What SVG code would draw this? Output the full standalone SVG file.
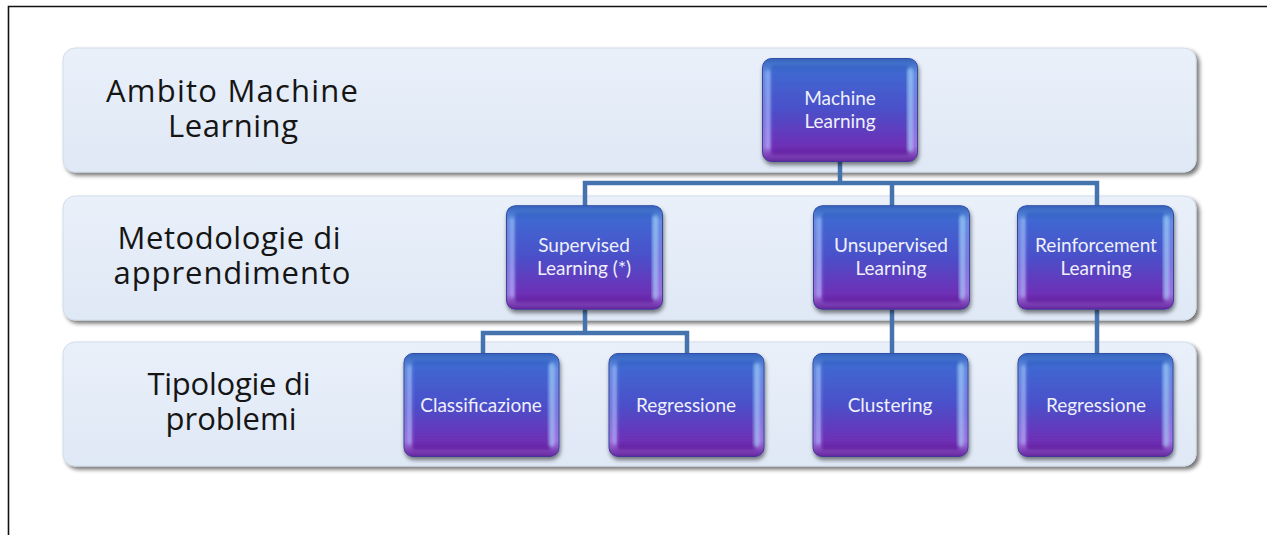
<svg xmlns="http://www.w3.org/2000/svg" width="1267" height="535" viewBox="0 0 1267 535">
  <defs>
    <linearGradient id="bandFill" x1="0" y1="0" x2="0" y2="1">
      <stop offset="0" stop-color="#e9f0fa"/>
      <stop offset="1" stop-color="#dfe8f5"/>
    </linearGradient>
    <linearGradient id="bevelFill" x1="0" y1="0" x2="0" y2="1">
      <stop offset="0" stop-color="#5f95e6"/>
      <stop offset="0.55" stop-color="#7d78e0"/>
      <stop offset="1" stop-color="#b06ee0"/>
    </linearGradient>
    <linearGradient id="faceFill" x1="0" y1="0" x2="0" y2="1">
      <stop offset="0" stop-color="#3d6cd3"/>
      <stop offset="0.5" stop-color="#4b4fc9"/>
      <stop offset="0.85" stop-color="#6a33b8"/>
      <stop offset="1" stop-color="#7228ae"/>
    </linearGradient>
    <linearGradient id="edgeShade" x1="0" y1="0" x2="0" y2="1">
      <stop offset="0" stop-color="#2f5cb8" stop-opacity="0.9"/>
      <stop offset="0.15" stop-color="#2f5cb8" stop-opacity="0"/>
      <stop offset="0.85" stop-color="#5a1f96" stop-opacity="0"/>
      <stop offset="1" stop-color="#5a1f96" stop-opacity="0.9"/>
    </linearGradient>
    <filter id="bandShadow" x="-5%" y="-20%" width="110%" height="140%">
      <feGaussianBlur in="SourceAlpha" stdDeviation="2.2"/>
      <feOffset dx="3" dy="3" result="b"/>
      <feComponentTransfer><feFuncA type="linear" slope="0.55"/></feComponentTransfer>
      <feMerge><feMergeNode/><feMergeNode in="SourceGraphic"/></feMerge>
    </filter>
    <filter id="nodeShadow" x="-10%" y="-10%" width="125%" height="130%">
      <feGaussianBlur in="SourceAlpha" stdDeviation="2"/>
      <feOffset dx="1" dy="3" result="b"/>
      <feComponentTransfer><feFuncA type="linear" slope="0.5"/></feComponentTransfer>
      <feMerge><feMergeNode/><feMergeNode in="SourceGraphic"/></feMerge>
    </filter>
    <filter id="soft" x="-10%" y="-10%" width="120%" height="120%">
      <feGaussianBlur stdDeviation="1.4"/>
    </filter>
    <!-- one glossy tile, reused for every node -->
    <symbol id="tile" viewBox="0 0 156 104" overflow="visible">
      <g filter="url(#nodeShadow)">
        <rect x="0.5" y="0.5" width="155" height="103" rx="9" fill="url(#bevelFill)" stroke="#34479a" stroke-width="1"/>
        <rect x="9" y="7" width="138" height="90" rx="3" fill="url(#faceFill)" filter="url(#soft)"/>
        <rect x="0.5" y="0.5" width="155" height="103" rx="9" fill="url(#edgeShade)"/>
        <rect x="145" y="10" width="6" height="84" rx="3" fill="#a8dcfb" opacity="0.55" filter="url(#soft)"/>
        <rect x="4" y="12" width="4" height="80" rx="2" fill="#a8c8f8" opacity="0.45" filter="url(#soft)"/>
      </g>
    </symbol>
  </defs>
  <style>
    .band { fill: url(#bandFill); stroke: #d2dcea; stroke-width: 1; }
    .lbl { font-family: "Open Sans", "Liberation Sans", sans-serif; font-size: 31px; fill: #151515; text-anchor: middle; }
    .ntxt { font-family: Lato, "Liberation Sans", sans-serif; font-size: 19px; fill: #eef0fb; text-anchor: middle; }
    .wire { fill: none; stroke: #4573ae; stroke-width: 4.5; stroke-linejoin: miter; }
  </style>

  <rect width="1267" height="535" fill="#ffffff"/>
  <path d="M8.5 535 V6.5 H1267" fill="none" stroke="#111" stroke-width="1.6"/>

  <!-- horizontal bands -->
  <g id="bands" filter="url(#bandShadow)">
    <rect class="band" x="63" y="48" width="1133" height="124" rx="12"/>
    <rect class="band" x="63" y="196" width="1133" height="124" rx="12"/>
    <rect class="band" x="63" y="342" width="1133" height="124" rx="12"/>
  </g>

  <!-- band labels -->
  <g id="label-ambito">
    <text class="lbl" x="232" y="102" textLength="252" lengthAdjust="spacing">Ambito Machine</text>
    <text class="lbl" x="233" y="137" textLength="130" lengthAdjust="spacing">Learning</text>
  </g>
  <g id="label-metodologie">
    <text class="lbl" x="229" y="249" textLength="223" lengthAdjust="spacing">Metodologie di</text>
    <text class="lbl" x="232" y="284" textLength="237" lengthAdjust="spacing">apprendimento</text>
  </g>
  <g id="label-tipologie">
    <text class="lbl" x="229" y="395" textLength="163" lengthAdjust="spacing">Tipologie di</text>
    <text class="lbl" x="231" y="430" textLength="131" lengthAdjust="spacing">problemi</text>
  </g>

  <!-- connectors -->
  <g id="connectors">
    <path class="wire" d="M840 160 V183"/>
    <path class="wire" d="M585 207 V183 H1097 V207"/>
    <path class="wire" d="M892 183 V207"/>
    <path class="wire" d="M585 308 V333"/>
    <path class="wire" d="M483 355 V333 H687 V355"/>
    <path class="wire" d="M892 308 V355"/>
    <path class="wire" d="M1097 308 V355"/>
  </g>

  <!-- nodes -->
  <g id="node-machine-learning">
    <use href="#tile" x="762" y="58" width="156" height="104"/>
    <text class="ntxt" x="840" y="105">Machine</text>
    <text class="ntxt" x="840" y="128">Learning</text>
  </g>
  <g id="node-supervised">
    <use href="#tile" x="506" y="205" width="157" height="105"/>
    <text class="ntxt" x="584" y="252">Supervised</text>
    <text class="ntxt" x="584" y="275">Learning (*)</text>
  </g>
  <g id="node-unsupervised">
    <use href="#tile" x="813" y="205" width="157" height="105"/>
    <text class="ntxt" x="891" y="252">Unsupervised</text>
    <text class="ntxt" x="891" y="275">Learning</text>
  </g>
  <g id="node-reinforcement">
    <use href="#tile" x="1017" y="205" width="157" height="105"/>
    <text class="ntxt" x="1096" y="252">Reinforcement</text>
    <text class="ntxt" x="1096" y="275">Learning</text>
  </g>
  <g id="node-classificazione">
    <use href="#tile" x="403" y="353" width="157" height="104"/>
    <text class="ntxt" x="481" y="412">Classificazione</text>
  </g>
  <g id="node-regressione-1">
    <use href="#tile" x="608" y="353" width="157" height="104"/>
    <text class="ntxt" x="686" y="412">Regressione</text>
  </g>
  <g id="node-clustering">
    <use href="#tile" x="812" y="353" width="157" height="104"/>
    <text class="ntxt" x="890" y="412">Clustering</text>
  </g>
  <g id="node-regressione-2">
    <use href="#tile" x="1017" y="353" width="157" height="104"/>
    <text class="ntxt" x="1096" y="412">Regressione</text>
  </g>
</svg>
